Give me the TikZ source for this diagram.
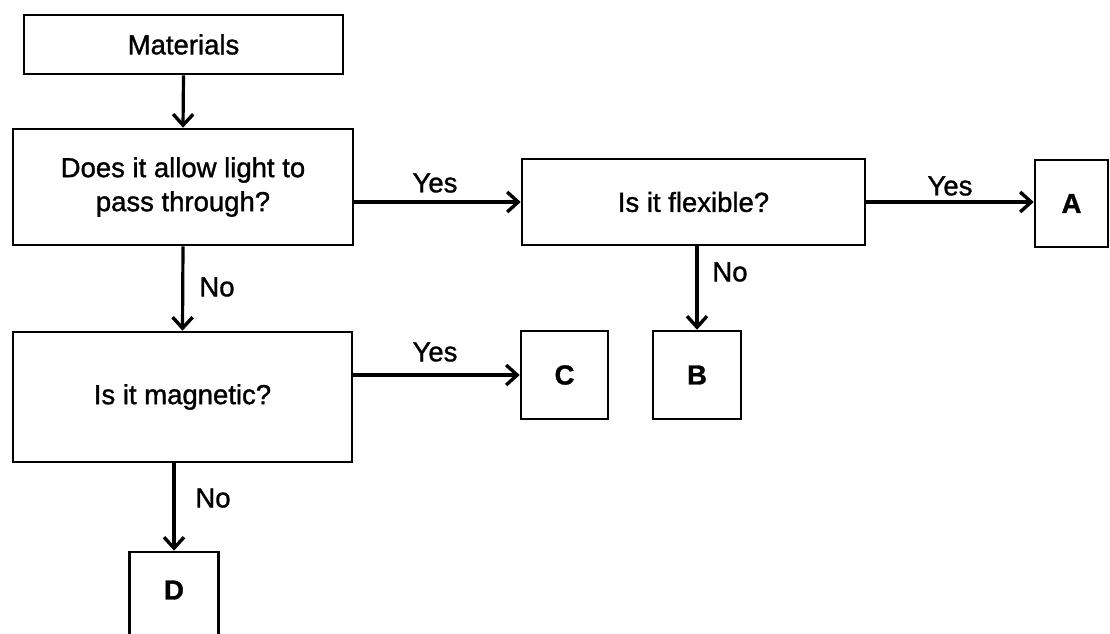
\documentclass[tikz,border=0pt]{standalone}
\usepackage{fontspec}
\setmainfont{Liberation Sans}
\newfontfamily\heavyfont[FakeBold=1.2]{Liberation Sans}
\usetikzlibrary{arrows.meta}
\begin{document}
\begin{tikzpicture}[x=1pt,y=-1pt,
  box/.style={draw, line width=2.6pt, rectangle, inner sep=0pt, align=center,
    font=\heavyfont\fontsize{27.5}{34}\selectfont},
  lbl/.style={font=\heavyfont\fontsize{27.5}{30}\selectfont, inner sep=0pt},
  conn/.style={line width=3.2pt, -{Straight Barb[length=11pt,width=20pt,line width=3.4pt]}}]
\clip (0,0) rectangle (1110,633);
\fill[white] (0,0) rectangle (1110,633);
\node[box, minimum width=319pt, minimum height=59pt] (mat) at (183.5,44.5) {Materials};
\node[box, minimum width=340pt, minimum height=116pt] (d1) at (183,187) {Does it allow light to\\pass through?};
\node[box, minimum width=343pt, minimum height=86pt] (flex) at (693.5,202) {Is it flexible?};
\node[box, minimum width=73pt, minimum height=87pt] (A) at (1071.5,203.5) {\bfseries A};
\node[box, minimum width=339pt, minimum height=130pt] (mag) at (182.5,397) {Is it magnetic?};
\node[box, minimum width=87pt, minimum height=88pt] (C) at (564.5,375) {\bfseries C};
\node[box, minimum width=88pt, minimum height=88pt] (B) at (697,375) {\bfseries B};
\node[box, minimum width=89pt, minimum height=100pt] (D) at (174,602) {};
\node[lbl] (Dt) at (174,590) {\bfseries D};
\draw[conn] (mat.south) -- (d1.north);
\draw[conn] (d1.east |- flex.west) -- (flex.west);
\draw[conn] (flex.east) -- (flex.east -| A.west);
\draw[conn] (flex.south -| B.north) -- (B.north);
\draw[conn] (d1.south) -- (mag.north);
\draw[conn] (mag.east |- C.west) -- (C.west);
\draw[conn] (mag.south -| D.north) -- (D.north);
\node[lbl] (y1) at (435,183) {Yes};
\node[lbl] (y2) at (950,186) {Yes};
\node[lbl] (n1) at (730,272) {No};
\node[lbl] (n2) at (217,287) {No};
\node[lbl] (y3) at (435,352) {Yes};
\node[lbl] (n3) at (213,498) {No};
\end{tikzpicture}
\end{document}
